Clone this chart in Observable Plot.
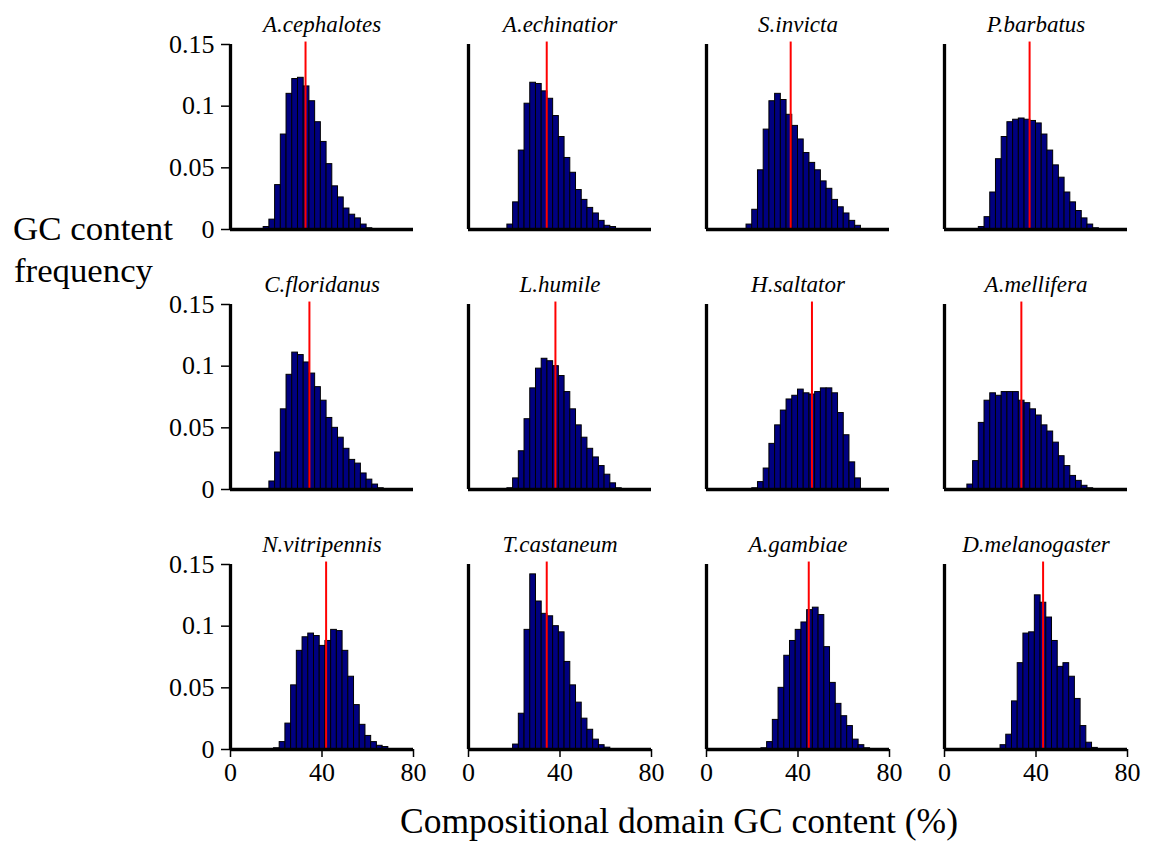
<!DOCTYPE html>
<html><head><meta charset="utf-8">
<script src="https://cdn.jsdelivr.net/npm/d3@7"></script>
<script src="https://cdn.jsdelivr.net/npm/@observablehq/plot@0.6"></script>
<style>
html,body{margin:0;padding:0;background:#fff;}
#chart{position:relative;width:1157px;height:844px;}
</style></head><body><div id="chart"></div>
<script>
// ---- data ----
const species = ["A.cephalotes","A.echinatior","S.invicta","P.barbatus",
                 "C.floridanus","L.humile","H.saltator","A.mellifera",
                 "N.vitripennis","T.castaneum","A.gambiae","D.melanogaster"];
const means = [32.8, 34.2, 36.8, 37.2, 34.5, 38.0, 46.1, 33.6, 41.8, 34.2, 44.7, 43.1];
const binStart = [14.5, 17, 17.5, 15, 17, 17, 20, 10, 19, 19.5, 24, 24.5];
const binWidth = 2.5;
const xTicks = [0, 40, 80];
const yTicks = [0, 0.05, 0.1, 0.15];

const fACephalotes = [0.002,0.008,0.036,0.077,0.110,0.122,0.123,0.116,0.104,0.087,0.071,0.053,0.035,0.026,0.017,0.012,0.009,0.004,0.001];
const fAEchinatior = [0.004,0.022,0.064,0.102,0.119,0.118,0.112,0.106,0.092,0.075,0.058,0.046,0.032,0.024,0.0175,0.013,0.007,0.003,0.002];
const fSInvicta = [0.004,0.016,0.048,0.081,0.104,0.110,0.105,0.093,0.084,0.073,0.062,0.054,0.048,0.039,0.033,0.024,0.018,0.013,0.007,0.003];
const fPBarbatus = [0.002,0.010,0.030,0.057,0.075,0.087,0.089,0.090,0.089,0.088,0.086,0.077,0.064,0.052,0.042,0.030,0.022,0.015,0.009,0.004,0.001];
const fCFloridanus = [0.0065,0.030,0.065,0.093,0.111,0.109,0.103,0.094,0.083,0.072,0.058,0.050,0.042,0.033,0.024,0.021,0.013,0.008,0.004,0.001];
const fLHumile = [0.001,0.009,0.031,0.057,0.082,0.098,0.106,0.104,0.100,0.092,0.079,0.065,0.052,0.042,0.033,0.026,0.019,0.012,0.005,0.001];
const fHSaltator = [0.001,0.006,0.017,0.037,0.052,0.064,0.073,0.076,0.081,0.078,0.077,0.079,0.082,0.082,0.078,0.062,0.044,0.022,0.009];
const fAMellifera = [0.004,0.023,0.054,0.072,0.078,0.076,0.079,0.079,0.079,0.072,0.070,0.065,0.060,0.052,0.047,0.038,0.027,0.019,0.011,0.007,0.003,0.001];
const fNVitripennis = [0.001,0.006,0.021,0.052,0.080,0.091,0.094,0.092,0.084,0.088,0.097,0.096,0.080,0.059,0.036,0.020,0.011,0.006,0.003,0.002];
const fTCastaneum = [0.004,0.029,0.097,0.142,0.120,0.110,0.108,0.100,0.095,0.071,0.052,0.038,0.025,0.016,0.008,0.0035,0.0015];
const fAGambiae = [0.001,0.006,0.024,0.050,0.076,0.088,0.097,0.103,0.113,0.115,0.109,0.083,0.054,0.037,0.027,0.019,0.008,0.0035,0.001];
const fDMelanogaster = [0.0035,0.012,0.039,0.070,0.094,0.095,0.125,0.119,0.107,0.088,0.067,0.070,0.059,0.041,0.019,0.0055,0.0013];

const freqs = [fACephalotes,fAEchinatior,fSInvicta,fPBarbatus,fCFloridanus,fLHumile,
               fHSaltator,fAMellifera,fNVitripennis,fTCastaneum,fAGambiae,fDMelanogaster];

// ---- tables for the library ----
const bars = [];
species.forEach((s, i) => {
  freqs[i].forEach((v, j) => {
    bars.push({species: s, col: i % 4, row: Math.floor(i / 4),
               x1: binStart[i] + j * binWidth, x2: binStart[i] + (j + 1) * binWidth, freq: v});
  });
});
const panels = species.map((s, i) => ({species: s, col: i % 4, row: Math.floor(i / 4), mean: means[i]}));

const serif = "'Liberation Serif', 'Times New Roman', Times, serif";

const chart = Plot.plot({
  width: 1157, height: 844,
  marginLeft: 229, marginRight: 29.5, marginTop: 43.3, marginBottom: 93,
  style: {fontFamily: serif, fontSize: "26px", background: "white", color: "black"},
  fx: {domain: [0, 1, 2, 3], padding: 0.2327, axis: null},
  fy: {domain: [0, 1, 2], padding: 0.287, axis: null},
  x: {domain: [0, 80]},
  y: {domain: [0, 0.15]},
  marks: [
    Plot.rectY(bars, {x1: "x1", x2: "x2", y: "freq", fx: "col", fy: "row",
                      fill: "#000080", stroke: "#000", strokeWidth: 1}),
    Plot.ruleX(panels, {x: "mean", y1: 0, y2: 0.152, fx: "col", fy: "row", stroke: "#ff0000", strokeWidth: 2}),
    Plot.ruleY([0], {stroke: "#000", strokeWidth: 3.3}),
    Plot.ruleX([0], {y1: 0, y2: 0.15, stroke: "#000", strokeWidth: 3.3}),
    Plot.axisY({ticks: yTicks, tickFormat: d => String(d), tickSize: 9, tickPadding: 7,
                strokeWidth: 1.5, label: null}),
    Plot.axisX({ticks: xTicks, tickFormat: d => String(d), tickSize: 8, tickPadding: 5,
                strokeWidth: 1.5, label: null}),
    Plot.text(panels, {x: 40, y: 0.15, text: "species", fx: "col", fy: "row", dy: -13,
                       lineAnchor: "bottom", fontStyle: "italic", fontSize: 23})
  ]
});

const svg = d3.select(chart);
svg.append("text").attr("x", 13).attr("y", 240).attr("font-size", 34).attr("text-anchor", "start")
   .attr("fill", "black").attr("textLength", 160).attr("lengthAdjust", "spacingAndGlyphs").text("GC content");
svg.append("text").attr("x", 14).attr("y", 282).attr("font-size", 34).attr("text-anchor", "start")
   .attr("fill", "black").attr("textLength", 139).attr("lengthAdjust", "spacingAndGlyphs").text("frequency");
svg.append("text").attr("x", 679).attr("y", 833).attr("font-size", 35).attr("text-anchor", "middle")
   .attr("fill", "black").attr("textLength", 558).attr("lengthAdjust", "spacingAndGlyphs")
   .text("Compositional domain GC content (%)");

document.getElementById("chart").appendChild(chart);
</script></body></html>
